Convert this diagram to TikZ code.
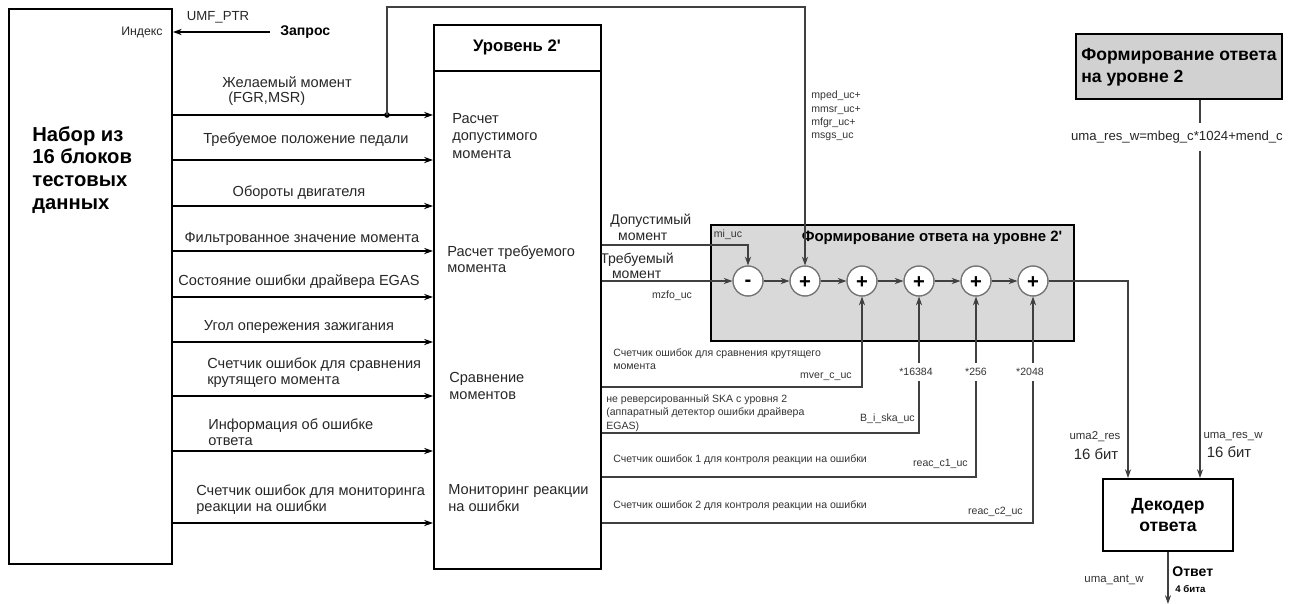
\documentclass[tikz,border=0pt]{standalone}
\usepackage{fontspec}
\setmainfont{Liberation Sans}[Ligatures=TeXOff]
\usetikzlibrary{arrows.meta,calc}
\begin{document}
\begin{tikzpicture}[x=0.02cm,y=-0.02cm,
 box/.style={draw, line width=1.1pt, inner sep=0pt, anchor=north west},
 arr/.style={-{Stealth[length=5pt,width=3.5pt]}, line width=0.8pt},
 ln/.style={line width=0.6pt, draw=black!75},
 garr/.style={ln, -{Stealth[length=5pt,width=3.5pt]}},
 lbl/.style={font=\fontsize{8.3}{9}\selectfont, inner sep=0pt, text=black!85},
 sm/.style={font=\fontsize{6}{7.5}\selectfont, inner sep=0pt, text=black!80},
 sumc/.style={circle, draw=black!55, line width=0.6pt, fill=white, minimum size=0.6cm, inner sep=0pt},
 sgn/.style={anchor=base, inner sep=0pt, font=\bfseries\fontsize{11.5}{12}\selectfont}
]
\useasboundingbox (0,0) rectangle (1300,603);

% boxes
\node[box, minimum width=3.26cm, minimum height=11.1cm] (lb) at (8,8) {};
\node[anchor=west, align=left, inner sep=0pt, font=\bfseries\fontsize{11.5}{13}\selectfont] (lbt) at (32,170) {Набор из\\16 блоков\\тестовых\\данных};

\node[box, minimum width=3.34cm, minimum height=10.88cm] (mb) at (433,24) {};
\draw[line width=0.8pt] (mb.west |- 0,71) -- (mb.east |- 0,71);
\node[inner sep=0pt, font=\bfseries\fontsize{9.5}{11}\selectfont] (mbt) at (517,47) {Уровень 2'};
\node[lbl, anchor=west, align=left, font=\fontsize{8.3}{10}\selectfont] (m1) at (452,136) {Расчет\\допустимого\\момента};
\node[lbl, anchor=west, align=left, font=\fontsize{8.3}{9.3}\selectfont] (m2) at (447,259) {Расчет требуемого\\момента};
\node[lbl, anchor=west, align=left, font=\fontsize{8.3}{10}\selectfont] (m3) at (449,386) {Сравнение\\моментов};
\node[lbl, anchor=west, align=left, font=\fontsize{8.3}{10}\selectfont] (m4) at (448,498) {Мониторинг реакции\\на ошибки};

\node[box, fill=black!15, minimum width=7.26cm, minimum height=2.32cm] (gb) at (710,224) {};
\node[inner sep=0pt, font=\bfseries\fontsize{8.5}{10}\selectfont] (gbt) at (932,238) {Формирование ответа на уровне 2'};

\node[box, fill=black!18, minimum width=4.12cm, minimum height=1.3cm] (tr) at (1075,33) {};
\node[anchor=west, align=left, inner sep=0pt, font=\bfseries\fontsize{10}{12.5}\selectfont] (trt) at (1081,67) {Формирование ответа\\на уровне 2};

\node[box, minimum width=2.6cm, minimum height=1.44cm] (dec) at (1102,478) {};
\node[align=center, inner sep=0pt, font=\bfseries\fontsize{10}{12}\selectfont] (dect) at (dec.center) {Декодер\\ответа};

% request
\node[lbl, anchor=east, font=\fontsize{7}{8}\selectfont] (idx) at (163,32) {Индекс};
\node[anchor=west, inner sep=0pt, font=\bfseries\fontsize{8}{9}\selectfont] (req) at (280,32) {Запрос};
\node[lbl, font=\fontsize{7.5}{9}\selectfont] (umf) at (218,17) {UMF\_PTR};
\draw[arr] ($(req.west)+(-10,0)$) -- (lb.east |- req.west);

% left to middle arrows
\foreach \yy/\nm in {115/a1,160/a2,206/a3,251/a4,297/a5,342/a6,396/a7,451/a8,523/a9}{
  \coordinate (\nm l) at (lb.east |- 0,\yy);
  \coordinate (\nm r) at (mb.west |- 0,\yy);
  \draw[arr] (\nm l) -- (\nm r);
}
\node[lbl, anchor=west] (t1a) at (222,82) {Желаемый момент};
\node[lbl, anchor=west] (t1b) at (228,99) {(FGR,MSR)};
\node[lbl] (t2) at (306,140) {Требуемое положение педали};
\node[lbl] (t3) at (299,193) {Обороты двигателя};
\node[lbl] (t4) at (302,239) {Фильтрованное значение момента};
\node[lbl] (t5) at (299,282) {Состояние ошибки драйвера EGAS};
\node[lbl] (t6) at (299,327) {Угол опережения зажигания};
\node[lbl, anchor=west, align=left] (t7) at (207,373) {Счетчик ошибок для сравнения\\крутящего момента};
\node[lbl, anchor=west, align=left] (t8) at (208,432) {Информация об ошибке\\ответа};
\node[lbl, anchor=west, align=left] (t9) at (196,500) {Счетчик ошибок для мониторинга\\реакции на ошибки};

% summing circles
\node[sumc] (s1) at (748,281) {};
\node[sumc] (s2) at (805,281) {};
\node[sumc] (s3) at (862,281) {};
\node[sumc] (s4) at (919,281) {};
\node[sumc] (s5) at (976,281) {};
\node[sumc] (s6) at (1033,281) {};

\coordinate (dot) at (a1l -| 387,0);
\coordinate (topl) at (387,7);
\fill (dot) circle (1.6pt);
\draw[garr] (dot) -- (topl) -| (s2.north);

\draw[garr] (mb.east |- 0,245) -| (s1.north);
\draw[garr] (mb.east |- s1) -- (s1.west);
\draw[garr] (s1) -- (s2);
\draw[garr] (s2) -- (s3);
\draw[garr] (s3) -- (s4);
\draw[garr] (s4) -- (s5);
\draw[garr] (s5) -- (s6);

\draw[garr] (mb.east |- 0,387) -| (s3.south);
\draw[garr] (mb.east |- 0,433) -| (s4.south);
\draw[garr] (mb.east |- 0,477) -| (s5.south);
\draw[garr] (mb.east |- 0,523) -| (s6.south);

% redraw circles on top of entering lines
\foreach \s in {s1,s2,s3,s4,s5,s6}{\draw[draw=black!55, line width=0.6pt] (\s) circle (0.3cm);}
\node[sgn] (g1) at ($(s1.center)+(0,5)$) {-};
\foreach \s in {s2,s3,s4,s5,s6}{\node[sgn] (g\s) at ($(\s.center)+(0,7)$) {+};}

\coordinate (d1) at ($(dec.north west)+(26,0)$);
\draw[garr] (s6.east) -| (d1);

\coordinate (tx) at ($(tr.south west)+(125,0)$);
\coordinate (dx) at ($(dec.north west)+(98,0)$);
\draw[garr] (tx) -- (dx);
\node[font=\fontsize{7.5}{9}\selectfont, fill=white, inner xsep=0pt, inner ysep=4.5pt, text=black!85] (form) at (1177,137) {uma\_res\_w=mbeg\_c*1024+mend\_c};

\coordinate (oe) at ($(dec.south)+(0,52)$);
\draw[garr] (dec.south) -- (oe);

% labels right part
\node[lbl, anchor=west, align=left, font=\fontsize{8}{9}\selectfont] (dop) at (610,227) {Допустимый\\\ \ момент};
\node[lbl, anchor=west, align=left, font=\fontsize{8}{8.5}\selectfont] (treb) at (600,266) {Требуемый\\\ \ \ момент};
\node[sm] (miuc) at (728,235) {mi\_uc};
\node[sm] (mzfo) at (672,296) {mzfo\_uc};
\node[sm, anchor=north west, align=left] (mped) at (811,91) {mped\_uc+\\mmsr\_uc+\\mfgr\_uc+\\msgs\_uc};

\node[sm, anchor=west, align=left] (c1) at (613,359) {Счетчик ошибок для сравнения крутящего\\момента};
\node[sm, anchor=east] (mver) at (852,377) {mver\_c\_uc};
\node[sm, anchor=west, align=left] (c2) at (606,413) {не реверсированный SKA с уровня 2\\(аппаратный детектор ошибки драйвера\\EGAS)};
\node[sm, anchor=east] (bi) at (915,419) {B\_i\_ska\_uc};
\node[sm, anchor=west] (c3) at (613,460) {Счетчик ошибок 1 для контроля реакции на ошибки};
\node[sm, anchor=east] (rc1) at (968,464) {reac\_c1\_uc};
\node[sm, anchor=west] (c4) at (613,506) {Счетчик ошибок 2 для контроля реакции на ошибки};
\node[sm, anchor=east] (rc2) at (1023,512) {reac\_c2\_uc};
\node[sm, fill=white, inner ysep=3pt] (k1) at (916,372) {*16384};
\node[sm, fill=white, inner ysep=3pt] (k2) at (976,372) {*256};
\node[sm, fill=white, inner ysep=3pt] (k3) at (1030,372) {*2048};

\node[sm, font=\fontsize{6.5}{8}\selectfont] (u2) at (1095,437) {uma2\_res};
\node[lbl, font=\fontsize{8.5}{9}\selectfont] (u2b) at (1096,454) {16 бит};
\node[sm, font=\fontsize{6.5}{8}\selectfont] (urw) at (1233,437) {uma\_res\_w};
\node[lbl, font=\fontsize{8.5}{9}\selectfont] (urwb) at (1229,452) {16 бит};
\node[anchor=west, inner sep=0pt, font=\bfseries\fontsize{8}{9}\selectfont] (otv) at (1172,572) {Ответ};
\node[anchor=west, inner sep=0pt, font=\bfseries\fontsize{5.5}{6}\selectfont] (otv2) at (1175,589) {4 бита};
\node[sm, font=\fontsize{6.5}{8}\selectfont] (uaw) at (1114,580) {uma\_ant\_w};
\end{tikzpicture}
\end{document}
